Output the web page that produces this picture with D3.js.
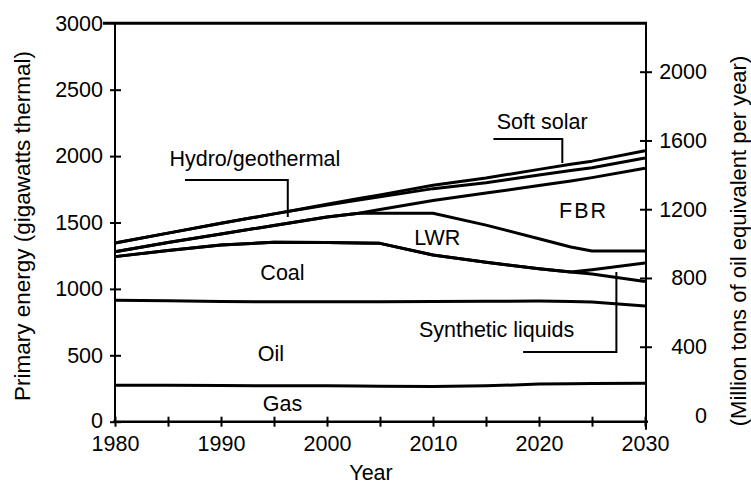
<!DOCTYPE html>
<html><head><meta charset="utf-8">
<script src="https://cdn.jsdelivr.net/npm/d3@7"></script>
<style>
body{margin:0;background:#fff}
svg{display:block}
text{font-family:"Liberation Sans",Arial,Helvetica,sans-serif;fill:#000}
</style>
</head><body>
<svg id="c" width="751" height="485"></svg>
<script>
// ---- data (gigawatts thermal, stacked layers) ----
const years     = [1980,1985,1990,1995,2000,2003,2005,2010,2015,2020,2023,2025,2030];
const gas       = [ 275, 274, 272, 271, 270, 268, 267, 265, 270, 283, 286, 287, 290];
const oil       = [ 640, 636, 633, 632, 633, 635, 636, 640, 637, 625, 619, 615, 582];
const coal      = [ 328, 380, 425, 449, 447, 442, 440, 350, 293, 244, 223, 210, 183];
const synthetic = [   0,   0,   0,   0,   0,   0,   0,   0,   0,   0,   0,  33, 140];
const lwr       = [  37,  60,  83, 126, 191, 225, 227, 315, 280, 226, 188, 140,  90];
const fbr       = [   0,   0,   0,   0,   0,   0,  28,  95, 242, 400, 496, 553, 623];
const hydro     = [  65,  70,  81,  87,  91, 100,  95,  90,  78,  80,  79,  74,  77];
const solar     = [   0,   0,   0,   0,   5,  10,  15,  25,  35,  42,  47,  50,  55];
const layerKeys = ["gas","oil","coal","synthetic","lwr","fbr","hydro","solar"];
const leftTicks  = [0,500,1000,1500,2000,2500,3000];
const rightTicks = [0,400,800,1200,1600,2000];
const xTicks     = [1980,1985,1990,1995,2000,2005,2010,2015,2020,2025,2030];
const xLabels    = [1980,1990,2000,2010,2020,2030];

const series = {gas,oil,coal,synthetic,lwr,fbr,hydro,solar};
const table = years.map((yr,i)=>{const r={year:yr}; layerKeys.forEach(k=>r[k]=series[k][i]); return r;});

const svg = d3.select("#c");
const x  = d3.scaleLinear().domain([1980,2030]).range([115,645]);
const y  = d3.scaleLinear().domain([0,3000]).range([421.7,23.3]);
const yR = d3.scaleLinear().domain([0,2000]).range([415.5,71.7]);

const FS = 21.5;

// ---- frame / axes ----
svg.append("line").attr("x1",103).attr("x2",x(2030)+2).attr("y1",y(3000)).attr("y2",y(3000))
  .attr("stroke","#000").attr("stroke-width",3);
// left axis
const gL = svg.append("g").attr("transform",`translate(${x(1980)},0)`)
  .call(d3.axisLeft(y).tickValues(leftTicks).tickSizeInner(5).tickSizeOuter(0).tickPadding(7).tickFormat(d3.format("d")));
gL.select(".domain").remove();
gL.selectAll(".tick line").attr("x1",6).attr("x2",-5).attr("stroke-width",2)
  .filter(d=>d===3000).remove();
gL.selectAll(".tick text").attr("font-size",FS).attr("font-family",null)
  .attr("dy",d=>d===0?"0.25em":"0.32em");
svg.append("line").attr("x1",x(1980)).attr("x2",x(1980)).attr("y1",y(3000)).attr("y2",y(0))
  .attr("stroke","#000").attr("stroke-width",2);

// bottom axis
const gB = svg.append("g").attr("transform",`translate(0,${y(0)})`)
  .call(d3.axisBottom(x).tickValues(xTicks).tickSizeInner(5).tickSizeOuter(0).tickPadding(9)
    .tickFormat(d=>xLabels.includes(d)?String(d):""));
gB.select(".domain").remove();
gB.selectAll(".tick line").attr("y1",-5).attr("y2",5).attr("stroke-width",2);
gB.selectAll(".tick text").attr("font-size",FS).attr("font-family",null);
svg.append("line").attr("x1",x(1980)-2).attr("x2",x(2030)+3).attr("y1",y(0)).attr("y2",y(0))
  .attr("stroke","#000").attr("stroke-width",2.5);

// right axis
const gR = svg.append("g").attr("transform",`translate(${x(2030)+1},0)`)
  .call(d3.axisRight(yR).tickValues(rightTicks).tickSizeInner(6).tickSizeOuter(0).tickFormat(d3.format("d")));
gR.select(".domain").remove();
gR.selectAll(".tick line").attr("x1",-6).attr("x2",6).attr("stroke-width",2)
  .filter(d=>d===0).remove();
gR.selectAll(".tick text").attr("font-size",FS).attr("font-family",null)
  .attr("x",61).attr("text-anchor","end");
svg.append("line").attr("x1",x(2030)+1).attr("x2",x(2030)+1).attr("y1",y(3000)).attr("y2",y(0)+8)
  .attr("stroke","#000").attr("stroke-width",2);

// axis titles
svg.append("text").attr("transform",`translate(22,226) rotate(-90)`)
  .attr("text-anchor","middle").attr("dy","0.35em").attr("font-size",22.5)
  .text("Primary energy (gigawatts thermal)");
svg.append("text").attr("transform",`translate(738,241) rotate(-90)`)
  .attr("text-anchor","middle").attr("dy","0.35em").attr("font-size",22)
  .text("(Million tons of oil equivalent per year)");
svg.append("text").attr("x",371).attr("y",472).attr("text-anchor","middle").attr("dy","0.35em")
  .attr("font-size",FS).text("Year");

// ---- stacked layer boundaries ----
const stack = d3.stack().keys(layerKeys)(table);
const line = d3.line().x(d=>x(d.data.year)).y(d=>y(d[1]));
svg.append("g").selectAll("path").data(stack).join("path")
  .attr("d",line).attr("fill","none").attr("stroke","#000")
  .attr("stroke-width",3).attr("stroke-linejoin","round");

// ---- labels ----
const labels = [
  {t:"Hydro/geothermal", yr:1993.2, v:1979, ls:0},
  {t:"Soft solar",       yr:2020.3, v:2257, ls:0},
  {t:"FBR",              yr:2024.2, v:1594, ls:2},
  {t:"LWR",              yr:2010.4, v:1391, ls:0},
  {t:"Coal",             yr:1995.8, v:1120, ls:0},
  {t:"Oil",              yr:1994.7, v: 510, ls:0},
  {t:"Synthetic liquids",yr:2016.0, v: 698, ls:0},
  {t:"Gas",              yr:1995.8, v: 140, ls:0}
];
svg.append("g").selectAll("text").data(labels).join("text")
  .attr("x",d=>x(d.yr)).attr("y",d=>y(d.v)).attr("dy","0.35em")
  .attr("text-anchor","middle").attr("font-size",FS)
  .attr("letter-spacing",d=>d.ls).text(d=>d.t);

// leader lines (data coordinates)
const leaders = [
  [[1986.6,1820],[1996.3,1820],[1996.3,1541]],
  [[2015.7,2129],[2022.2,2129],[2022.2,1948]],
  [[2018.5,525],[2027.3,525],[2027.3,1127]]
];
const lg = d3.line().x(d=>x(d[0])).y(d=>y(d[1]));
svg.append("g").selectAll("path").data(leaders).join("path")
  .attr("d",lg).attr("fill","none").attr("stroke","#000").attr("stroke-width",2);
</script>
</body></html>
